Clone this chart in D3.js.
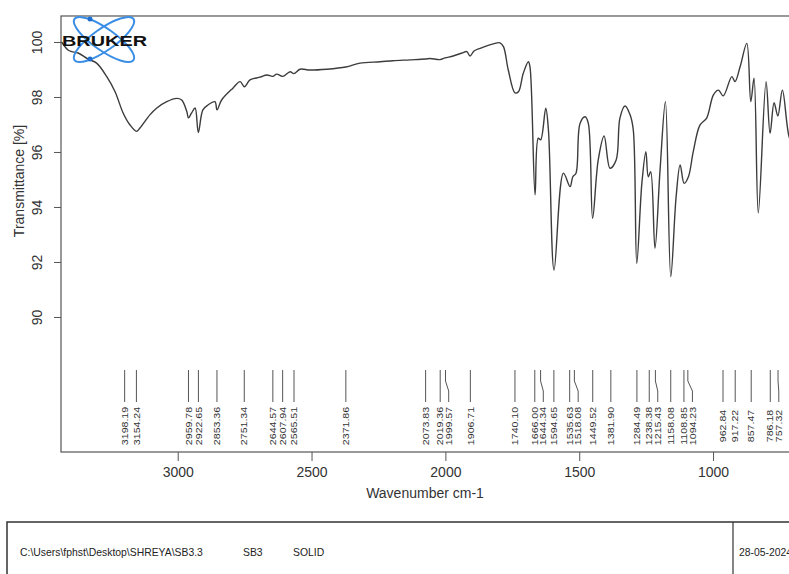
<!DOCTYPE html>
<html>
<head>
<meta charset="utf-8">
<script src="https://cdn.jsdelivr.net/npm/d3@7"></script>
<style>
  body { margin: 0; background: #fff; }
  svg { display: block; font-family: "Liberation Sans", Arial, sans-serif; }
</style>
</head>
<body>
<div id="chart"></div>
<script>
// spectrum (wavenumber cm-1 / transmittance %)
var wavenumber = [3434, 3410, 3396, 3372, 3335, 3303, 3265, 3234, 3204, 3178,
  3154, 3141, 3104, 3078, 3041, 3004, 2985, 2966, 2960, 2948,
  2935, 2923, 2906, 2887, 2861, 2853, 2836, 2793, 2767, 2751,
  2730, 2692, 2667, 2645, 2630, 2608, 2580, 2566, 2543, 2506,
  2443, 2372, 2319, 2244, 2196, 2132, 2075, 2057, 2020, 2001,
  1971, 1938, 1920, 1908, 1893, 1870, 1821, 1796, 1783, 1765,
  1740, 1727, 1709, 1690, 1684, 1665, 1653, 1644, 1625, 1615,
  1594, 1559, 1534, 1524, 1512, 1497, 1478, 1466, 1450, 1429,
  1407, 1385, 1362, 1348, 1329, 1310, 1298, 1285, 1266, 1251,
  1242, 1233, 1217, 1198, 1178, 1158, 1138, 1123, 1108, 1092,
  1074, 1049, 1024, 999, 980, 962, 930, 918, 899, 874,
  859, 847, 831, 802, 787, 772, 758, 741, 716, 694];

var transmittance = [100.0, 99.71, 99.65, 99.6, 99.38, 99.23, 98.74, 98.19, 97.42, 96.98,
  96.75, 96.87, 97.35, 97.6, 97.83, 97.95, 97.89, 97.47, 97.24, 97.42,
  97.6, 96.71, 97.53, 97.71, 97.83, 97.53, 97.89, 98.33, 98.56, 98.37,
  98.62, 98.72, 98.8, 98.75, 98.83, 98.75, 98.92, 98.85, 99.01, 98.98,
  99.01, 99.09, 99.23, 99.28, 99.32, 99.35, 99.38, 99.4, 99.36, 99.42,
  99.49, 99.6, 99.65, 99.49, 99.67, 99.77, 99.93, 99.97, 99.83, 98.98,
  98.15, 98.19, 98.86, 99.28, 99.1, 94.44, 96.5, 96.44, 97.59, 96.8,
  91.71, 95.23, 94.74, 95.1, 95.23, 97.04, 97.28, 97.04, 93.59, 95.71,
  96.58, 95.41, 95.71, 97.23, 97.67, 97.35, 96.8, 91.95, 94.86, 96.01,
  95.1, 95.28, 92.5, 95.35, 97.83, 91.47, 94.37, 95.53, 94.86, 95.1,
  96.01, 96.98, 97.23, 98.07, 98.25, 98.04, 98.74, 98.56, 99.1, 99.95,
  97.83, 98.68, 93.79, 98.56, 96.68, 97.79, 97.31, 98.25, 96.56, 96.07];

// picked peaks
var peakLabels = ["3198.19", "3154.24", "2959.78", "2922.65", "2853.36", "2751.34",
  "2644.57", "2607.94", "2565.51", "2371.86", "2073.83", "2019.36", "1999.57",
  "1906.71", "1740.10", "1666.00", "1644.34", "1594.65", "1535.63", "1518.08",
  "1449.52", "1381.90", "1284.49", "1238.38", "1215.43", "1158.08", "1108.85",
  "1094.23", "962.84", "917.22", "857.47", "786.18", "757.32"];

var xTicks = [3000, 2500, 2000, 1500, 1000];
var yTicks = [90, 92, 94, 96, 98, 100];

var footerPath = "C:\\Users\\fphst\\Desktop\\SHREYA\\SB3.3";
var footerSample = "SB3";
var footerForm = "SOLID";
var footerDate = "28-05-2024";

var W = 789, H = 574;
var plot = {left: 61, top: 16, right: 789, bottom: 452};

var svg = d3.select("#chart").append("svg")
  .attr("width", W)
  .attr("height", H);

var x = d3.scaleLinear()
  .domain([3436, 716.3])
  .range([plot.left, plot.right]);

var y = d3.scaleLinear()
  .domain([85.09, 100.945])
  .range([plot.bottom, plot.top]);

var ink = "#3c3c3c";

// frame
svg.append("rect")
  .attr("x", plot.left)
  .attr("y", plot.top)
  .attr("width", plot.right - plot.left + 20)
  .attr("height", plot.bottom - plot.top)
  .attr("fill", "none")
  .attr("stroke", "#555")
  .attr("stroke-width", 1.2);

// x axis
var gx = svg.append("g")
  .attr("transform", "translate(0," + plot.bottom + ")")
  .call(d3.axisBottom(x).tickValues(xTicks).tickSize(9).tickPadding(6).tickFormat(d3.format("d")));
gx.select(".domain").remove();
gx.selectAll("line").attr("stroke", "#555");
gx.selectAll("text").attr("font-size", 14).attr("fill", "#333").attr("font-family", null);

// y axis
var gy = svg.append("g")
  .attr("transform", "translate(" + plot.left + ",0)")
  .call(d3.axisLeft(y).tickValues(yTicks).tickSize(7));
gy.select(".domain").remove();
gy.selectAll("line").attr("stroke", "#555");
gy.selectAll("text")
  .attr("font-size", 14).attr("fill", "#333").attr("font-family", null)
  .attr("x", 0).attr("y", -24).attr("dy", null)
  .attr("text-anchor", "middle")
  .attr("dominant-baseline", "central")
  .attr("transform", "rotate(-90)");

// axis titles
svg.append("text")
  .attr("x", 425).attr("y", 498)
  .attr("text-anchor", "middle")
  .attr("font-size", 14).attr("fill", "#333")
  .text("Wavenumber cm-1");

svg.append("text")
  .attr("transform", "translate(19,181) rotate(-90)")
  .attr("text-anchor", "middle")
  .attr("dominant-baseline", "central")
  .attr("font-size", 14).attr("fill", "#333")
  .text("Transmittance [%]");

// spectrum
svg.append("clipPath").attr("id", "clip")
  .append("rect")
  .attr("x", plot.left).attr("y", plot.top)
  .attr("width", plot.right - plot.left + 20)
  .attr("height", plot.bottom - plot.top);

var spectrum = wavenumber.map(function (w, i) { return {w: w, t: transmittance[i]}; });

svg.append("path")
  .datum(spectrum)
  .attr("clip-path", "url(#clip)")
  .attr("fill", "none")
  .attr("stroke", ink)
  .attr("stroke-width", 1.4)
  .attr("d", d3.line()
    .x(function (d) { return x(d.w); })
    .y(function (d) { return y(d.t); })
    .curve(d3.curveCatmullRom.alpha(0.5)));

// peak markers: push crowded labels to the right
var gap = 8.5;
var peaks = peakLabels.map(function (s) { return {label: s, px: x(+s)}; });
peaks.forEach(function (p, i) {
  p.lx = i === 0 ? p.px : Math.max(p.px, peaks[i - 1].lx + gap);
});

var gp = svg.append("g");
gp.selectAll("path")
  .data(peaks)
  .enter()
  .append("path")
  .attr("fill", "none")
  .attr("stroke", "#555")
  .attr("stroke-width", 1)
  .attr("d", function (d) {
    return "M" + d.px + ",370V381L" + d.lx + ",391V402";
  });

// narrow, tall digits like the printout
gp.selectAll("text")
  .data(peaks)
  .enter()
  .append("text")
  .attr("transform", function (d) { return "translate(" + d.lx + ",426) rotate(-90) scale(1.18,1)"; })
  .attr("text-anchor", "middle")
  .attr("dominant-baseline", "central")
  .attr("font-size", 9)
  .attr("fill", "#333")
  .text(function (d) { return d.label; });

// Bruker logo
var logo = svg.append("g");
[35, -35].forEach(function (a) {
  logo.append("ellipse")
    .attr("cx", 104).attr("cy", 39.5)
    .attr("rx", 36).attr("ry", 11)
    .attr("transform", "rotate(" + a + ",104,39.5)")
    .attr("fill", "none")
    .attr("stroke", "#3a8ee6")
    .attr("stroke-width", 2);
});
[[90, 19], [90, 59]].forEach(function (p) {
  logo.append("circle").attr("cx", p[0]).attr("cy", p[1]).attr("r", 2.5).attr("fill", "#1f6fd0");
});
logo.append("text")
  .attr("x", 62).attr("y", 45.5)
  .attr("font-size", 14)
  .attr("font-weight", "bold")
  .attr("textLength", 85)
  .attr("lengthAdjust", "spacingAndGlyphs")
  .attr("fill", "#111")
  .text("BRUKER");

// footer box
var footer = svg.append("g");
footer.append("rect")
  .attr("x", 7).attr("y", 522)
  .attr("width", 820).attr("height", 80)
  .attr("fill", "none")
  .attr("stroke", "#333")
  .attr("stroke-width", 1.5);
footer.append("line")
  .attr("x1", 733).attr("x2", 733)
  .attr("y1", 522).attr("y2", 574)
  .attr("stroke", "#333")
  .attr("stroke-width", 1.2);

[[20, footerPath], [243, footerSample], [293, footerForm], [739, footerDate]].forEach(function (f) {
  footer.append("text")
    .attr("x", f[0]).attr("y", 556)
    .attr("font-size", 10.4)
    .attr("fill", "#222")
    .text(f[1]);
});
</script>
</body>
</html>
